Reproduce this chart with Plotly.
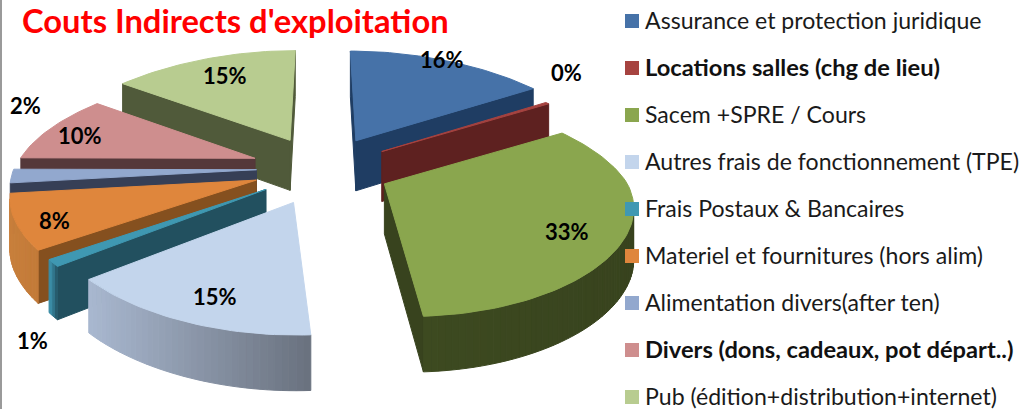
import math
import plotly.graph_objects as go

# --- data -------------------------------------------------------------
categories = ["Assurance et protection juridique", "Locations salles (chg de lieu)",
              "Sacem +SPRE / Cours", "Autres frais de fonctionnement (TPE)",
              "Frais Postaux & Bancaires", "Materiel et fournitures (hors alim)",
              "Alimentation divers(after ten)", "Divers (dons, cadeaux, pot départ..)",
              "Pub (édition+distribution+internet)"]
values = [16, 0.3, 33, 15, 1, 8, 2, 10, 15]
bold_categories = ["Locations salles (chg de lieu)", "Divers (dons, cadeaux, pot départ..)"]
title_text = "Couts Indirects d'exploitation"

# --- style ------------------------------------------------------------
top_colors = ["#4672A8", "#A64340", "#8AA64E", "#C3D5EC", "#3F98B2", "#DF863C", "#92A8CE", "#CE8E8E", "#B8CC90"]
side_colors = ["#1F3D63", "#5E2120", "#38431E", "#69717E", "#22505F", "#85501F", "#363F56", "#55383A", "#505A3A"]
rim_left = ["#1F3D63", "#5E2120", "#3D4A20", "#A9B8D0", "#3F98B2", "#C87F3C", "#6C7FA0", "#55383A", "#505A3A"]
rim_right = ["#1F3D63", "#5E2120", "#38431E", "#69717E", "#22505F", "#C27A38", "#6C7FA0", "#55383A", "#505A3A"]
draw_order = [8, 7, 6, 5, 4, 3, 0, 1, 2]
label_pos = [(442, 59), (566, 72), (567, 231), (215, 296), (32, 340), (54, 220), (25, 105), (80, 135), (225, 75)]
slice_pull = [0.29, 0.29, 0.29, 0.29, 0.29, 0.29, 0.27, 0.29, 0.29]
slice_radius = [1, 0.94, 1, 1, 1, 1, 1, 0.965, 1]
FONT = "Lato, Carlito, Calibri, sans-serif"
CX, CY, RX, RY, PERSP, DEPTH = 322, 168, 243, 107, 0.193, 50


def project(theta, radius, apex_dx):
    X, Y = math.sin(theta), math.cos(theta)
    s = 1 / (1 + PERSP * Y)
    sx = 1 - (0.22 if Y > 0 else 0.15) * Y
    dy = radius * RY * Y * s
    x = radius * RX * X * sx + 0.07 * max(0, -dy) + apex_dx * (s - 1)
    return x, -dy, s


def mix(a, b, t):
    ca = [int(a[i:i + 2], 16) for i in (1, 3, 5)]
    cb = [int(b[i:i + 2], 16) for i in (1, 3, 5)]
    return "rgb(%d,%d,%d)" % tuple(round(p + (q - p) * t) for p, q in zip(ca, cb))


fig = go.Figure()


def poly(pts, color):
    xs = [p[0] for p in pts] + [pts[0][0]]
    ys = [p[1] for p in pts] + [pts[0][1]]
    fig.add_trace(go.Scatter(x=xs, y=ys, mode="lines", fill="toself", fillcolor=color,
                             line=dict(color=color, width=1), hoverinfo="skip", showlegend=False))


total = sum(values)
starts, acc = [], 0.0
for v in values:
    starts.append(acc)
    acc += v
for i in draw_order:
    a0 = 2 * math.pi * starts[i] / total
    a1 = 2 * math.pi * (starts[i] + values[i]) / total
    mid = (a0 + a1) / 2
    ax = CX + slice_pull[i] * RX * math.sin(mid)
    py = slice_pull[i] * RY * math.cos(mid)
    ay = CY - (py if py > 0 else py / (1 + PERSP * math.cos(mid)) ** 1)
    n = max(2, int((a1 - a0) / math.radians(1.5)) + 2)
    arc = []
    for k in range(n):
        th = a0 + (a1 - a0) * k / (n - 1)
        x, y, s = project(th, slice_radius[i], ax - CX)
        arc.append((ax + x, ay + y, DEPTH * s ** 0.5))
    first, last = arc[0], arc[-1]
    # a side face shows when the clockwise edge runs leftwards on screen
    if last[0] > ax:
        poly([(last[0], last[1]), (ax, ay), (ax, ay + DEPTH), (last[0], last[1] + last[2])], side_colors[i])
    if first[0] < ax:
        poly([(ax, ay), (first[0], first[1]), (first[0], first[1] + first[2]), (ax, ay + DEPTH)], side_colors[i])
    xs_span = [p[0] for p in arc]
    lo, hi = min(xs_span), max(xs_span)
    for p, q in zip(arc[:-1], arc[1:]):
        if q[0] < p[0]:
            t = ((p[0] + q[0]) / 2 - lo) / max(1, hi - lo)
            poly([(p[0], p[1]), (q[0], q[1]), (q[0], q[1] + q[2]), (p[0], p[1] + p[2])],
                 mix(rim_left[i], rim_right[i], t))
    poly([(ax, ay)] + [(p[0], p[1]) for p in arc], top_colors[i])

# legend: one row per category, squares and text from the category list
row_y = [21 + 47 * r for r in range(len(categories))]
fig.add_trace(go.Scatter(
    x=[632] * len(categories), y=row_y, mode="markers",
    marker=dict(symbol="square", size=14, color=top_colors, line=dict(width=0)),
    hoverinfo="skip", showlegend=False))
plain = [(c, y) for c, y in zip(categories, row_y) if c not in bold_categories]
bold = [(c, y) for c, y in zip(categories, row_y) if c in bold_categories]
fig.add_trace(go.Scatter(
    x=[645] * len(plain), y=[y + 2 for c, y in plain], mode="text", text=[c for c, y in plain],
    textposition="middle right", textfont=dict(family=FONT, size=23.1, color="#1a1a1a"),
    hoverinfo="skip", showlegend=False))
fig.add_trace(go.Scatter(
    x=[645] * len(bold), y=[y + 2 for c, y in bold], mode="text", text=["<b>%s</b>" % c for c, y in bold],
    textposition="middle right", textfont=dict(family=FONT, size=23.7, color="#111111"),
    hoverinfo="skip", showlegend=False))

annotations = [dict(x=p[0], y=p[1], text="<b>%d%%</b>" % int(v + 0.0001) if v >= 1 else "<b>0%</b>",
                    showarrow=False, font=dict(family=FONT, size=22, color="black"),
                    xref="x", yref="y", xanchor="center", yanchor="middle")
               for p, v in zip(label_pos, values)]
annotations.append(dict(x=20, y=20, text="<b>%s</b>" % title_text, showarrow=False, xref="x", yref="y",
                        xanchor="left", yanchor="middle", font=dict(family=FONT, size=32.7, color="#FF0000")))

fig.update_layout(
    width=1025, height=409, margin=dict(l=0, r=0, t=0, b=0),
    paper_bgcolor="white", plot_bgcolor="white", showlegend=False,
    xaxis=dict(range=[0, 1025], visible=False, fixedrange=True),
    yaxis=dict(range=[409, 0], visible=False, fixedrange=True),
    annotations=annotations,
    shapes=[dict(type="line", xref="x", yref="y", x0=1, x1=1, y0=0, y1=409,
                 line=dict(color="#9a9a9a", width=2))],
)
fig.write_html("out.html", config={"displayModeBar": False},
               post_script="document.body.style.margin='0';document.body.style.overflow='hidden';")
